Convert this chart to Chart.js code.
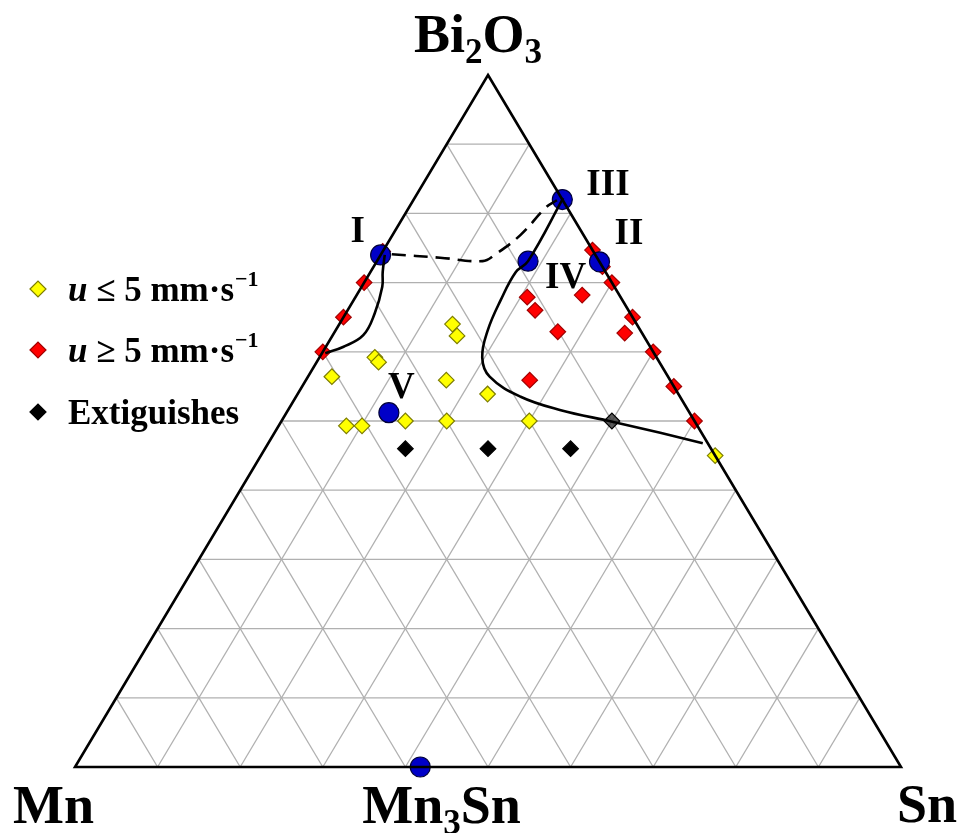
<!DOCTYPE html>
<html lang="en">
<head>
<meta charset="UTF-8">
<title>Bi2O3 - Mn - Sn</title>
<script src="https://cdn.jsdelivr.net/npm/chart.js"></script>
<style>
  body { margin: 0; background: #fff; }
  #wrap { width: 957px; height: 833px; }
</style>
</head>
<body>
<div id="wrap"><canvas id="ternary"></canvas></div>
<script>
// compositions are [Bi2O3 %, Sn %], Mn makes up the rest
const gridSteps = [10, 20, 30, 40, 50, 60, 70, 80, 90];

const slowPoints = [
  [64, 13.7], [62.3, 15.1], [59.2, 6.7], [58.5, 7.5], [56.4, 2.9], [55.9, 17],
  [53.9, 23], [49.3, 8.2], [49.3, 10.1], [50, 15], [50, 20], [50, 30], [45, 55]
];
const fastPoints = [
  [74.5, 0], [70, 0], [65, 0], [60, 0],
  [74.7, 25.3], [72.3, 27.7], [70, 30], [65, 35], [60, 40], [55, 45], [50, 50],
  [67.9, 20.8], [66, 22.7], [62.9, 27], [68.2, 27.3], [55.9, 27.1], [62.7, 35.2]
];
const extinguishPoints = [[46, 17], [46, 27], [46, 37]];
const boundaryPoint = [[50, 40]];

const specialPoints = [[74, 0], [73, 27], [82, 18], [73.1, 18.3], [51.2, 12.4], [0, 41.8]];
const specialNames = ['I', 'II', 'III', 'IV', 'V', ''];

const curveLeft = [
  [74, 0.5], [71.5, 1.5], [69.4, 2.5], [65.6, 3.5], [62.4, 3.7], [60.7, 2.1], [59.8, 0.4]
];
const curveDashed = [
  [74.1, 1.3], [73.6, 7.4], [73.1, 12.8], [74, 13.8], [76.9, 15.5], [80.9, 16.6], [81.9, 17.4]
];
const curveRight = [
  [82.2, 18], [73.1, 18.3], [71.5, 17.6], [67.5, 17.8], [63.2, 18.4], [59.2, 19.7],
  [56.4, 22], [53.5, 27.2], [51.6, 32.9], [49.9, 40.1], [48.3, 46.7], [46.8, 52.6]
];

const legendLabels = [['u', ' \u2264 5 mm\u00b7s', '\u22121'], ['u', ' \u2265 5 mm\u00b7s', '\u22121'], ['', 'Extiguishes', '']];
const vertexLabels = [
  [['Bi', 0], ['2', 1], ['O', 0], ['3', 1]],
  [['Mn', 0]],
  [['Mn', 0], ['3', 1], ['Sn', 0]],
  [['Sn', 0]]
];

function toXY(c) {
  const bi = c[0] / 100, sn = c[1] / 100;
  return { x: sn + bi / 2, y: bi };
}

const SERIF = "'Liberation Serif', 'Times New Roman', serif";
const styles = [
  { bg: '#ffff00', border: '#7d7d00' },
  { bg: '#ff0000', border: '#a00000' },
  { bg: '#000000', border: '#000000' }
];

function drawRich(ctx, pieces, x, y, size) {
  let cx = x;
  pieces.forEach(p => {
    const sub = p[1] === 1;
    ctx.font = 'bold ' + (sub ? size * 0.65 : size) + 'px ' + SERIF;
    ctx.fillText(p[0], cx, sub ? y + size * 0.2 : y);
    cx += ctx.measureText(p[0]).width;
  });
}

function diamond(ctx, x, y, r, st) {
  ctx.beginPath();
  ctx.moveTo(x - r, y); ctx.lineTo(x, y - r); ctx.lineTo(x + r, y); ctx.lineTo(x, y + r);
  ctx.closePath();
  ctx.fillStyle = st.bg; ctx.fill();
  ctx.lineWidth = 1.2; ctx.strokeStyle = st.border; ctx.stroke();
}

const ternaryFrame = {
  id: 'ternaryFrame',
  beforeDatasetsDraw(chart) {
    const { ctx, scales } = chart;
    const px = c => { const p = toXY(c); return [scales.x.getPixelForValue(p.x), scales.y.getPixelForValue(p.y)]; };
    ctx.save();
    ctx.strokeStyle = '#b0b0b0';
    ctx.lineWidth = 1.3;
    gridSteps.forEach(k => {
      const segs = [
        [[k, 0], [k, 100 - k]],
        [[0, k], [100 - k, k]],
        [[0, 100 - k], [100 - k, 0]]
      ];
      segs.forEach(s => {
        const a = px(s[0]), b = px(s[1]);
        ctx.beginPath(); ctx.moveTo(a[0], a[1]); ctx.lineTo(b[0], b[1]); ctx.stroke();
      });
    });
    ctx.restore();
  },
  afterDatasetsDraw(chart) {
    const { ctx, scales } = chart;
    const px = c => { const p = toXY(c); return [scales.x.getPixelForValue(p.x), scales.y.getPixelForValue(p.y)]; };
    const top = px([100, 0]), left = px([0, 0]), right = px([0, 100]);
    ctx.save();
    ctx.strokeStyle = '#000';
    ctx.lineWidth = 2.6;
    ctx.lineJoin = 'miter';
    ctx.beginPath();
    ctx.moveTo(top[0], top[1]); ctx.lineTo(right[0], right[1]); ctx.lineTo(left[0], left[1]);
    ctx.closePath(); ctx.stroke();

    // vertex labels
    ctx.fillStyle = '#000';
    ctx.textBaseline = 'alphabetic';
    const mn3sn = px(specialPoints[5]);
    drawRich(ctx, vertexLabels[0], top[0] - 74, top[1] - 23, 54);
    drawRich(ctx, vertexLabels[1], left[0] - 62, left[1] + 56, 54);
    drawRich(ctx, vertexLabels[2], mn3sn[0] - 58, mn3sn[1] + 56, 54);
    drawRich(ctx, vertexLabels[3], right[0] - 4, right[1] + 55, 54);

    // roman labels
    const offs = [[-30, -13], [15, -18], [24, -5], [17, 27], [-1, -15]];
    ctx.font = 'bold 37px ' + SERIF;
    specialNames.forEach((n, i) => {
      if (!n) return;
      const p = px(specialPoints[i]);
      ctx.fillText(n, p[0] + offs[i][0], p[1] + offs[i][1]);
    });

    // legend
    const rows = [289, 350, 412];
    legendLabels.forEach((lab, i) => {
      diamond(ctx, 38, rows[i], 8, styles[i]);
      let x = 68, y = rows[i] + 12;
      ctx.fillStyle = '#000';
      if (lab[0]) {
        ctx.font = 'italic bold 35px ' + SERIF;
        ctx.fillText(lab[0], x, y);
        x += ctx.measureText(lab[0]).width;
      }
      ctx.font = 'bold 35px ' + SERIF;
      ctx.fillText(lab[1], x, y);
      x += ctx.measureText(lab[1]).width;
      if (lab[2]) {
        ctx.font = 'bold 22px ' + SERIF;
        ctx.fillText(lab[2], x + 1, y - 15);
      }
    });
    ctx.restore();
  }
};

function markerSet(list, st, r) {
  return {
    data: list.map(toXY),
    showLine: false,
    pointStyle: 'rectRot',
    pointRadius: r,
    pointHoverRadius: r,
    pointBackgroundColor: st.bg,
    pointBorderColor: st.border,
    pointBorderWidth: 1.2,
    clip: false,
    order: 2
  };
}

function curveSet(list, dash) {
  return {
    data: list.map(toXY),
    showLine: true,
    borderColor: '#000',
    borderWidth: 2.6,
    borderDash: dash,
    tension: 0.4,
    pointRadius: 0,
    fill: false,
    clip: false,
    order: 0
  };
}

new Chart(document.getElementById('ternary'), {
  type: 'scatter',
  data: {
    datasets: [
      curveSet(curveLeft, []),
      curveSet(curveDashed, [14, 8]),
      curveSet(curveRight, []),
      markerSet(slowPoints, styles[0], 7.8),
      markerSet(fastPoints, styles[1], 7.8),
      markerSet(extinguishPoints, styles[2], 7.8),
      markerSet(boundaryPoint, { bg: 'rgba(50,50,50,0.8)', border: '#000' }, 7.8),
      {
        data: specialPoints.map(toXY),
        showLine: false,
        pointStyle: 'circle',
        pointRadius: 10,
        pointBackgroundColor: '#0000c8',
        pointBorderColor: '#00003a',
        pointBorderWidth: 1.2,
        clip: false,
        order: 1
      }
    ]
  },
  options: {
    responsive: true,
    maintainAspectRatio: false,
    animation: false,
    layout: { padding: { left: 75, right: 56, top: 75, bottom: 66 } },
    scales: {
      x: { type: 'linear', min: 0, max: 1, display: false },
      y: { type: 'linear', min: 0, max: 1, display: false }
    },
    plugins: { legend: { display: false }, tooltip: { enabled: false } }
  },
  plugins: [ternaryFrame]
});
</script>
</body>
</html>
